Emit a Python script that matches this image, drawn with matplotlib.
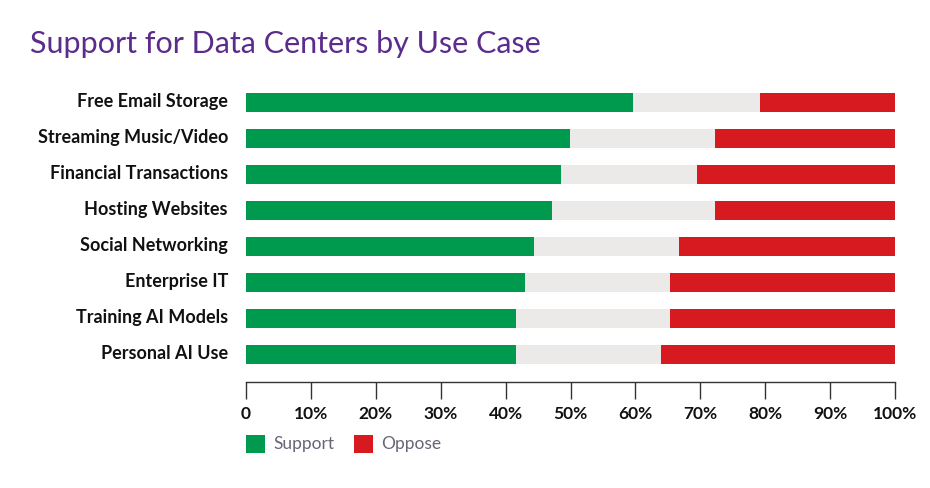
import matplotlib.pyplot as plt
import matplotlib.transforms as mtransforms
from matplotlib.patches import Rectangle
from matplotlib.ticker import FuncFormatter

# use cases, top to bottom
categories = ['Free Email Storage', 'Streaming Music/Video', 'Financial Transactions',
              'Hosting Websites', 'Social Networking', 'Enterprise IT',
              'Training AI Models', 'Personal AI Use']
support = [59.6, 49.9, 48.5, 47.1, 44.4, 43.0, 41.6, 41.6]
oppose = [20.8, 27.7, 30.5, 27.7, 33.3, 34.7, 34.7, 36.1]
neutral = [100 - s - o for s, o in zip(support, oppose)]
legend_labels = ['Support', 'Oppose']

GREEN = '#009A4E'
GREY = '#EBEAE8'
RED = '#D71920'
PURPLE = '#5B2C8C'

plt.rcParams['font.family'] = ['Lato', 'DejaVu Sans']

W, H = 930, 488
fig = plt.figure(figsize=(W / 100, H / 100), dpi=100)
ax = fig.add_axes([246 / W, 106 / H, 649 / W, 297.5 / H])

y = list(range(len(categories)))
h = 0.53
ax.barh(y, support, height=h, color=GREEN)
ax.barh(y, neutral, left=support, height=h, color=GREY)
ax.barh(y, oppose, left=[s + n for s, n in zip(support, neutral)], height=h, color=RED)

ax.set_xlim(0, 100)
ax.set_ylim(7.764, -0.5)
ax.set_yticks(y)
ax.set_yticklabels(categories, fontsize=13, fontweight='bold', color='#111111')
ax.tick_params(axis='y', length=0, pad=13)
# labels sit a touch above the bar centres in the original
shift = mtransforms.ScaledTranslation(0, 2 / 100, fig.dpi_scale_trans)
for lab in ax.get_yticklabels():
    lab.set_transform(lab.get_transform() + shift)

ax.set_xticks(range(0, 101, 10))
ax.xaxis.set_major_formatter(FuncFormatter(lambda v, p: '0' if v == 0 else f'{v:.0f}%'))
ax.tick_params(axis='x', length=12, width=1, color='#333333', labelsize=12.5, pad=5,
               labelcolor='#111111')
for lab in ax.get_xticklabels():
    lab.set_fontweight('bold')

for side in ['top', 'right', 'left']:
    ax.spines[side].set_visible(False)
ax.spines['bottom'].set_color('#333333')
ax.spines['bottom'].set_linewidth(1)

fig.text(30 / W, 1 - 44 / H, 'Support for Data Centers by Use Case', fontsize=22,
         color=PURPLE, va='center', ha='left')

# legend drawn by hand: square + label
legend_x = [246, 354]
for x0, lab, col in zip(legend_x, legend_labels, [GREEN, RED]):
    fig.add_artist(Rectangle((x0 / W, 1 - 453 / H), 19 / W, 18 / H,
                             transform=fig.transFigure, color=col, lw=0))
    fig.text((x0 + 27) / W, 1 - 444 / H, lab, fontsize=12.5, color='#666677',
             va='center', ha='left')

fig.savefig('out.png', dpi=100)
